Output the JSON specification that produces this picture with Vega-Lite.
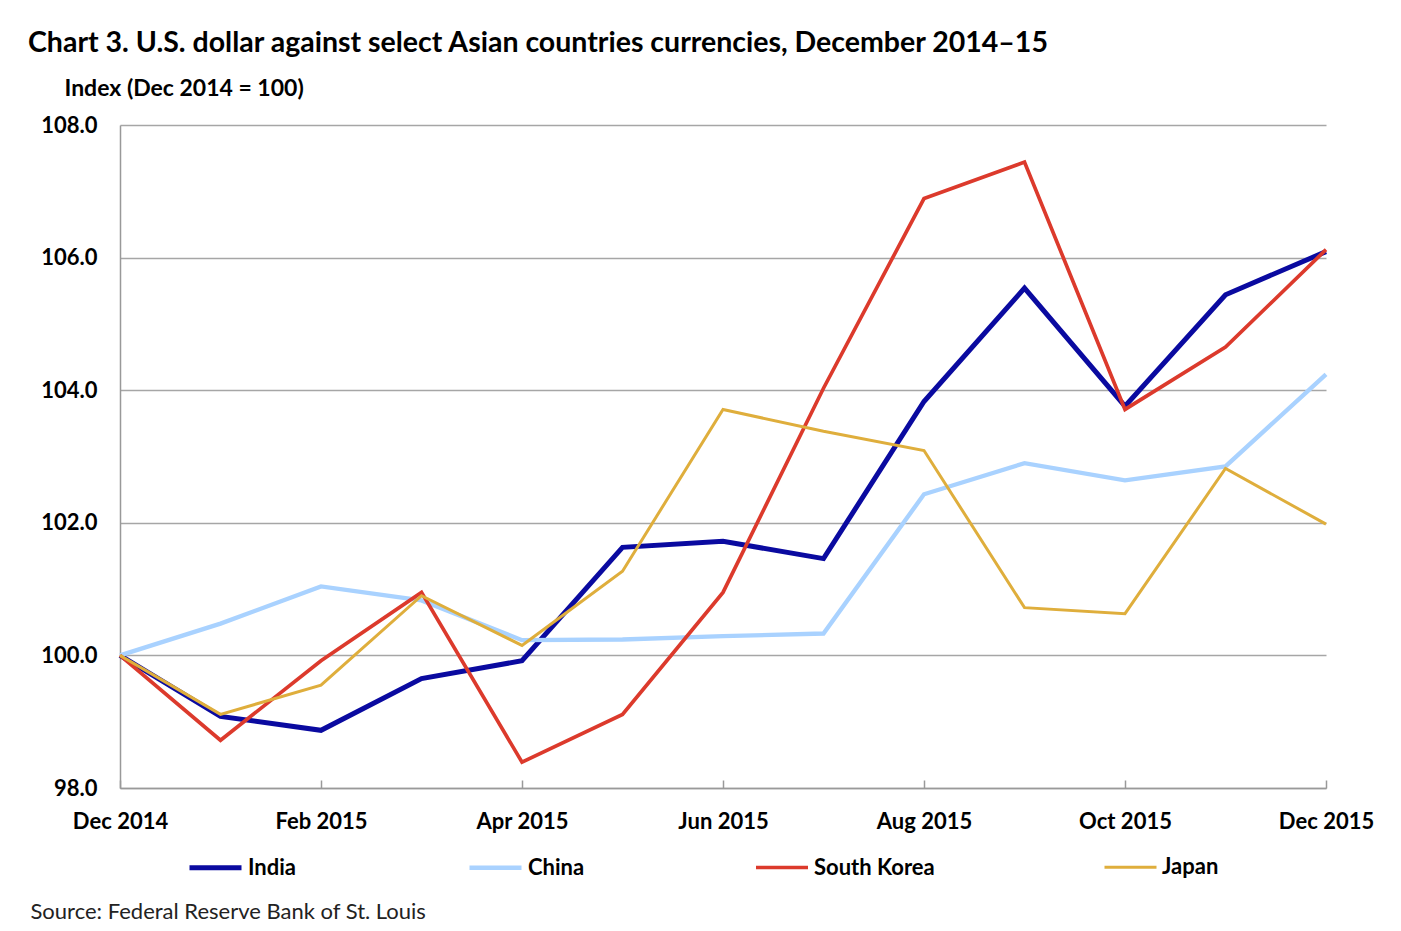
{
  "$schema": "https://vega.github.io/schema/vega-lite/v6.json",
  "width": 1206,
  "height": 663,
  "autosize": {"type": "none"},
  "padding": {"left": 120, "top": 125, "right": 75, "bottom": 143},
  "background": "white",
  "title": {
    "text": "Chart 3. U.S. dollar against select Asian countries currencies, December 2014–15",
    "anchor": "start",
    "frame": "group",
    "dx": -92,
    "offset": 20,
    "font": "Lato",
    "fontSize": 28.5,
    "fontWeight": "bold",
    "color": "#000000"
  },
  "data": {
    "values": [
      {"month": "Dec 2014", "country": "India", "value": 100.0},
      {"month": "Jan 2015", "country": "India", "value": 99.08},
      {"month": "Feb 2015", "country": "India", "value": 98.87},
      {"month": "Mar 2015", "country": "India", "value": 99.65},
      {"month": "Apr 2015", "country": "India", "value": 99.92},
      {"month": "May 2015", "country": "India", "value": 101.63},
      {"month": "Jun 2015", "country": "India", "value": 101.72},
      {"month": "Jul 2015", "country": "India", "value": 101.46},
      {"month": "Aug 2015", "country": "India", "value": 103.83},
      {"month": "Sep 2015", "country": "India", "value": 105.54},
      {"month": "Oct 2015", "country": "India", "value": 103.76},
      {"month": "Nov 2015", "country": "India", "value": 105.44},
      {"month": "Dec 2015", "country": "India", "value": 106.09},
      {"month": "Dec 2014", "country": "China", "value": 100.0},
      {"month": "Jan 2015", "country": "China", "value": 100.48},
      {"month": "Feb 2015", "country": "China", "value": 101.04},
      {"month": "Mar 2015", "country": "China", "value": 100.83},
      {"month": "Apr 2015", "country": "China", "value": 100.23},
      {"month": "May 2015", "country": "China", "value": 100.24},
      {"month": "Jun 2015", "country": "China", "value": 100.29},
      {"month": "Jul 2015", "country": "China", "value": 100.33},
      {"month": "Aug 2015", "country": "China", "value": 102.43},
      {"month": "Sep 2015", "country": "China", "value": 102.9},
      {"month": "Oct 2015", "country": "China", "value": 102.64},
      {"month": "Nov 2015", "country": "China", "value": 102.85},
      {"month": "Dec 2015", "country": "China", "value": 104.24},
      {"month": "Dec 2014", "country": "South Korea", "value": 100.0},
      {"month": "Jan 2015", "country": "South Korea", "value": 98.72},
      {"month": "Feb 2015", "country": "South Korea", "value": 99.92},
      {"month": "Mar 2015", "country": "South Korea", "value": 100.95},
      {"month": "Apr 2015", "country": "South Korea", "value": 98.39},
      {"month": "May 2015", "country": "South Korea", "value": 99.11},
      {"month": "Jun 2015", "country": "South Korea", "value": 100.95},
      {"month": "Jul 2015", "country": "South Korea", "value": 104.03},
      {"month": "Aug 2015", "country": "South Korea", "value": 106.89},
      {"month": "Sep 2015", "country": "South Korea", "value": 107.44},
      {"month": "Oct 2015", "country": "South Korea", "value": 103.71},
      {"month": "Nov 2015", "country": "South Korea", "value": 104.65},
      {"month": "Dec 2015", "country": "South Korea", "value": 106.12},
      {"month": "Dec 2014", "country": "Japan", "value": 100.0},
      {"month": "Jan 2015", "country": "Japan", "value": 99.11},
      {"month": "Feb 2015", "country": "Japan", "value": 99.55},
      {"month": "Mar 2015", "country": "Japan", "value": 100.9},
      {"month": "Apr 2015", "country": "Japan", "value": 100.15},
      {"month": "May 2015", "country": "Japan", "value": 101.27},
      {"month": "Jun 2015", "country": "Japan", "value": 103.71},
      {"month": "Jul 2015", "country": "Japan", "value": 103.38},
      {"month": "Aug 2015", "country": "Japan", "value": 103.09},
      {"month": "Sep 2015", "country": "Japan", "value": 100.72},
      {"month": "Oct 2015", "country": "Japan", "value": 100.63},
      {"month": "Nov 2015", "country": "Japan", "value": 102.82},
      {"month": "Dec 2015", "country": "Japan", "value": 101.98}
    ]
  },
  "mark": {"type": "line", "strokeJoin": "miter", "strokeCap": "butt"},
  "encoding": {
    "x": {
      "field": "month",
      "type": "ordinal",
      "sort": null,
      "scale": {"type": "point", "padding": 0},
      "axis": {
        "values": ["Dec 2014", "Feb 2015", "Apr 2015", "Jun 2015", "Aug 2015", "Oct 2015", "Dec 2015"],
        "labelAngle": 0,
        "labelFont": "Lato",
        "labelFontSize": 22,
        "labelFontWeight": "bold",
        "labelColor": "#000000",
        "labelPadding": 31,
        "tickSize": -8,
        "tickColor": "#999999",
        "tickWidth": 1.5,
        "domainColor": "#999999",
        "domainWidth": 1.5,
        "grid": false,
        "title": "Source: Federal Reserve Bank of St. Louis",
        "titleFont": "Lato",
        "titleFontSize": 22,
        "titleFontWeight": "normal",
        "titleColor": "#222222",
        "titleAlign": "left",
        "titleAnchor": "start",
        "titleBaseline": "middle",
        "titleX": -90,
        "titleY": 123
      }
    },
    "y": {
      "field": "value",
      "type": "quantitative",
      "scale": {"domain": [98, 108], "nice": false, "zero": false},
      "axis": {
        "values": [98, 100, 102, 104, 106, 108],
        "format": ".1f",
        "labelFont": "Lato",
        "labelFontSize": 22,
        "labelFontWeight": "bold",
        "labelColor": "#000000",
        "labelPadding": 23,
        "ticks": false,
        "domainColor": "#999999",
        "domainWidth": 1.5,
        "grid": true,
        "gridColor": "#a6a6a6",
        "gridWidth": 1.5,
        "title": "Index (Dec 2014 = 100)",
        "titleFont": "Lato",
        "titleFontSize": 23,
        "titleFontWeight": "bold",
        "titleColor": "#000000",
        "titleAngle": 0,
        "titleAlign": "left",
        "titleBaseline": "middle",
        "titleX": -56,
        "titleY": -37
      }
    },
    "color": {
      "field": "country",
      "type": "nominal",
      "scale": {
        "domain": ["India", "China", "South Korea", "Japan"],
        "range": ["#0a0aa0", "#a9d2ff", "#dc3a2c", "#dfae3c"]
      },
      "legend": {
        "title": null,
        "orient": "none",
        "direction": "horizontal",
        "legendX": 67,
        "legendY": 714,
        "symbolType": "stroke",
        "symbolSize": 2704,
        "symbolStrokeWidth": 3.5,
        "labelOffset": 4,
        "columnPadding": 163,
        "labelFont": "Lato",
        "labelFontSize": 22,
        "labelFontWeight": "bold",
        "labelColor": "#000000"
      }
    },
    "strokeWidth": {
      "field": "country",
      "type": "nominal",
      "scale": {
        "domain": ["India", "China", "South Korea", "Japan"],
        "range": [5, 3, 3, 3]
      },
      "legend": null
    }
  },
  "config": {
    "view": {"stroke": null}
  }
}
